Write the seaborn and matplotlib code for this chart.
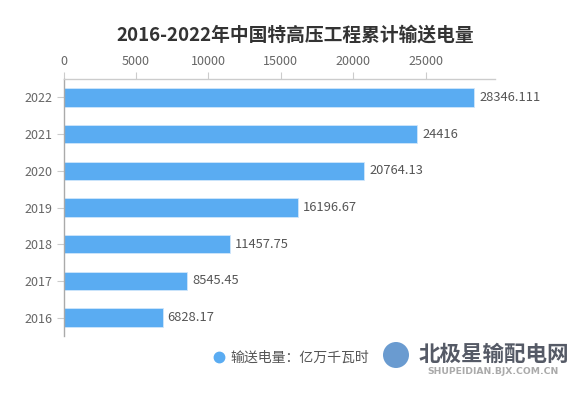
import matplotlib
matplotlib.use("Agg")
import matplotlib.pyplot as plt
from matplotlib.lines import Line2D
from matplotlib.patches import Ellipse
import seaborn as sns
import pandas as pd

# data
years = ["2016", "2017", "2018", "2019", "2020", "2021", "2022"]
power = [6828.17, 8545.45, 11457.75, 16196.67, 20764.13, 24416, 28346.111]
value_labels = ["6828.17", "8545.45", "11457.75", "16196.67", "20764.13", "24416", "28346.111"]
x_ticks = [0, 5000, 10000, 15000, 20000, 25000]

title = "2016-2022年中国特高压工程累计输送电量"
legend_label = "输送电量：亿万千瓦时"

df = pd.DataFrame({"year": years, "power": power, "label": value_labels})
order = years[::-1]  # 2022 on top

sns.set_style("white")
plt.rcParams["font.family"] = ["Noto Sans CJK SC", "DejaVu Sans"]

bar_color = "#5aacf2"

fig = plt.figure(figsize=(5.82, 3.94), dpi=100)
ax = fig.add_axes([0.1094, 0.1472, 0.8505 - 0.1094, 0.7995 - 0.1472])

sns.barplot(data=df, x="power", y="year", order=order, orient="h",
            color=bar_color, width=0.5, saturation=1,
            edgecolor="#cfe6fb", linewidth=0.6, ax=ax)

# value labels at bar ends
for i, yr in enumerate(order):
    row = df[df["year"] == yr].iloc[0]
    ax.text(row["power"] + 350, i, row["label"], va="center", ha="left",
            fontsize=9.3, color="#555555")

ax.set_xlim(0, 29800)
ax.set_ylim(6.5, -0.5)
ax.set_xticks(x_ticks)
ax.xaxis.tick_top()
ax.set_xlabel("")
ax.set_ylabel("")

for side in ["right", "bottom"]:
    ax.spines[side].set_visible(False)
ax.spines["top"].set_color("#cccccc")
ax.spines["left"].set_color("#aaaaaa")
ax.spines["top"].set_linewidth(1)
ax.spines["left"].set_linewidth(1)
ax.tick_params(axis="x", length=5, color="#cccccc", labelcolor="#666666",
               labelsize=9, pad=3, top=True, bottom=False)
ax.tick_params(axis="y", length=5, color="#cccccc", labelcolor="#666666",
               labelsize=9, pad=3, left=True)

fig.text(0.507, 0.91, title, ha="center", va="center", fontsize=13.5,
         fontweight="bold", color="#333333")

handle = Line2D([], [], marker="o", linestyle="", markersize=7.5,
                markerfacecolor=bar_color, markeredgecolor=bar_color)
fig.legend([handle], [legend_label], loc="center", bbox_to_anchor=(0.498, 0.091),
           frameon=False, fontsize=10, labelcolor="#555555",
           handletextpad=0.2, handlelength=1.2, borderpad=0)

# watermark
fig.patches.append(Ellipse((396 / 582, 1 - 355 / 394), 26 / 582, 26 / 394,
                           transform=fig.transFigure, facecolor="#6a9bd0",
                           edgecolor="none"))
fig.text(494 / 582, 1 - 354 / 394, "北极星输配电网", ha="center", va="center",
         fontsize=15.5, fontweight="bold", color="#555a66")
fig.text(493 / 582, 1 - 372 / 394, "SHUPEIDIAN.BJX.COM.CN", ha="center",
         va="center", fontsize=6.7, fontweight="bold", color="#aaaaaa",
         family="DejaVu Sans")

fig.savefig("out.png", dpi=100)
